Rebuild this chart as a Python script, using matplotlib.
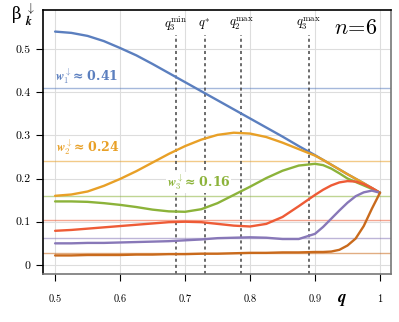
import matplotlib
matplotlib.use("Agg")
import matplotlib.pyplot as plt
import numpy as np

plt.rcParams['font.family'] = ['cmr10', 'DejaVu Serif']
plt.rcParams['mathtext.fontset'] = 'cm'
plt.rcParams['axes.formatter.use_mathtext'] = True

# data
q = [0.5, 0.525, 0.55, 0.575, 0.6, 0.625, 0.65, 0.675, 0.7, 0.725, 0.75, 0.775,
     0.8, 0.825, 0.85, 0.875, 0.9, 0.9125, 0.925, 0.9375, 0.95, 0.9625, 0.975, 0.9875, 1.0]

beta1 = [0.540, 0.537, 0.530, 0.518, 0.502, 0.485, 0.465, 0.444, 0.423, 0.402, 0.381, 0.360,
         0.339, 0.318, 0.297, 0.275, 0.254, 0.243, 0.232, 0.221, 0.210, 0.1995, 0.189, 0.178, 0.167]
beta2 = [0.160, 0.163, 0.170, 0.183, 0.199, 0.217, 0.237, 0.257, 0.275, 0.290, 0.301, 0.306,
         0.304, 0.296, 0.283, 0.268, 0.253, 0.243, 0.232, 0.221, 0.210, 0.1995, 0.189, 0.178, 0.167]
beta3 = [0.147, 0.147, 0.146, 0.143, 0.139, 0.134, 0.128, 0.124, 0.123, 0.129, 0.143, 0.162,
         0.181, 0.201, 0.218, 0.230, 0.234, 0.231, 0.223, 0.212, 0.200, 0.192, 0.184, 0.176, 0.167]
beta4 = [0.079, 0.081, 0.084, 0.087, 0.090, 0.093, 0.096, 0.099, 0.100, 0.099, 0.095, 0.091,
         0.089, 0.095, 0.111, 0.136, 0.162, 0.174, 0.184, 0.191, 0.194, 0.193, 0.187, 0.178, 0.167]
beta5 = [0.050, 0.050, 0.051, 0.051, 0.052, 0.053, 0.054, 0.055, 0.057, 0.059, 0.062, 0.063,
         0.064, 0.063, 0.060, 0.060, 0.072, 0.088, 0.107, 0.126, 0.144, 0.159, 0.168, 0.172, 0.167]
beta6 = [0.022, 0.022, 0.023, 0.023, 0.023, 0.024, 0.024, 0.025, 0.025, 0.026, 0.026, 0.027,
         0.028, 0.028, 0.029, 0.029, 0.030, 0.030, 0.031, 0.035, 0.045, 0.061, 0.090, 0.130, 0.167]

weights = [0.41, 0.24, 0.16, 0.103, 0.062, 0.028]
colors = ['#5b7fbf', '#e8a027', '#8cb33a', '#ee5b36', '#8878b8', '#c96a1c']
wlabels = ['0.41', '0.24', '0.16']

vq = [0.686, 0.730, 0.786, 0.890]
vlabels = [r'$q_3^{\rm min}$', r'$q^{*}$', r'$q_2^{\rm max}$', r'$q_3^{\rm max}$']

fig = plt.figure(figsize=(3.99, 3.22), dpi=100)
ax = fig.add_axes([0.108, 0.149, 0.872, 0.82])

ax.grid(True, color='#dddddd', lw=0.8)
ax.set_axisbelow(True)

for w, c in zip(weights, colors):
    ax.axhline(w, color=c, lw=1.0, alpha=0.55)

for x, lab in zip(vq, vlabels):
    ax.vlines(x, -0.021, 0.532, color='#444444', lw=1.1, linestyles=(0, (2, 2)))
    ax.text(x, 0.557, lab, ha='center', va='center', fontsize=9)

for b, c in zip([beta1, beta2, beta3, beta4, beta5, beta6], colors):
    ax.plot(q, b, color=c, lw=1.7, solid_capstyle='round', solid_joinstyle='round')

# weight annotations
pos = [(0.5, 0.415), (0.502, 0.249), (0.672, 0.168)]
for i, ((x, y), lab) in enumerate(zip(pos, wlabels)):
    kw = {}
    if i == 2:
        kw = dict(zorder=5, bbox=dict(boxstyle='square,pad=0.05', fc='white', ec='none'))
    ax.text(x, y, r'$\boldsymbol{w}_%d^{\downarrow}$≈ %s' % (i + 1, lab),
            color=colors[i], fontsize=9, fontweight='bold', family=['DejaVu Serif'],
            ha='left', va='bottom', **kw)
ax.text(0.93, 0.548, r'$n\!=\!6$', fontsize=16, ha='left', va='center')

ax.set_xlim(0.4815, 1.017)
ax.set_ylim(-0.021, 0.59)
ax.set_xticks([0.5, 0.6, 0.7, 0.8, 0.9, 1.0])
ax.set_xticklabels(['0.5', '0.6', '0.7', '0.8', '0.9', '1'])
ax.set_yticks([0, 0.1, 0.2, 0.3, 0.4, 0.5])
ax.set_yticklabels(['0', '0.1', '0.2', '0.3', '0.4', '0.5'])
ax.tick_params(axis='x', direction='out', length=5, pad=10, labelsize=7.5)
ax.tick_params(axis='y', direction='out', length=5, pad=4, labelsize=8.5)

for s in ['left', 'top']:
    ax.spines[s].set_color('black')
for s in ['bottom', 'right']:
    ax.spines[s].set_color('#777777')
for s in ax.spines.values():
    s.set_linewidth(1.2)

ax.text(0.86, -0.1, r'$\boldsymbol{q}$', transform=ax.transAxes, fontsize=12,
        ha='center', va='center')
fig.text(0.03, 0.955, 'β', fontsize=12, family='DejaVu Serif', ha='left', va='center')
fig.text(0.063, 0.955, r'$_{\boldsymbol{k}}^{\downarrow}$', fontsize=12,
         ha='left', va='center')

fig.savefig('out.png', dpi=100)
